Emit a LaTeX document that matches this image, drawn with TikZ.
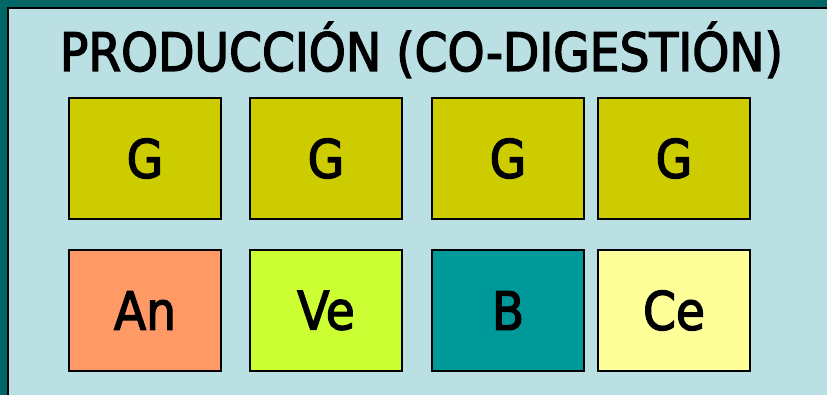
\documentclass[tikz,border=0pt]{standalone}
\usepackage{fontspec}
\newfontfamily\lbl{DejaVu Sans}[FakeStretch=0.89,FakeBold=2.5]
\definecolor{bgcol}{HTML}{BBE0E3}
\definecolor{framecol}{HTML}{006666}
\definecolor{gcol}{HTML}{CCCC00}
\definecolor{ancol}{HTML}{FF9966}
\definecolor{vecol}{HTML}{CCFF33}
\definecolor{bcol}{HTML}{009999}
\definecolor{cecol}{HTML}{FFFF99}
\tikzset{
  cell/.style={draw=black, line width=2pt, rectangle, minimum width=152pt, minimum height=121pt, inner sep=0pt, font=\lbl\fontsize{53}{60}\selectfont, text=black},
  titletext/.style={font=\lbl\fontsize{53}{60}\selectfont, text=black, inner sep=0pt, anchor=base}
}
\begin{document}
\begin{tikzpicture}[x=1pt,y=-1pt]
\useasboundingbox (0,0) rectangle (827,395);
\fill[framecol] (0,0) rectangle (827,395);
\fill[black] (7,7) rectangle (827,395);
\fill[bgcol] (9,9) rectangle (827,395);
\node[titletext] (title) at (421.5,71) {PRODUCCIÓN (CO-DIGESTIÓN)};
\node[cell, fill=gcol] (g1) at (145,158.5) {G};
\node[cell, fill=gcol] (g2) at (326,158.5) {G};
\node[cell, fill=gcol] (g3) at (508,158.5) {G};
\node[cell, fill=gcol] (g4) at (674,158.5) {G};
\node[cell, fill=ancol] (an) at (145,310.5) {An};
\node[cell, fill=vecol] (ve) at (326,310.5) {Ve};
\node[cell, fill=bcol] (b) at (508,310.5) {B};
\node[cell, fill=cecol] (ce) at (674,310.5) {Ce};
\end{tikzpicture}
\end{document}
